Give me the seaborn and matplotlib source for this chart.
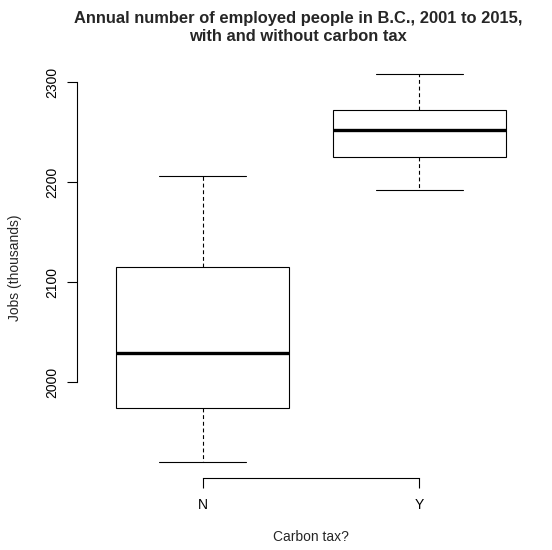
import pandas as pd
import matplotlib
matplotlib.use("Agg")
import matplotlib.pyplot as plt
import seaborn as sns

# Annual employment in B.C. (thousands), split by carbon tax in place
years_no_tax = [2001, 2002, 2003, 2004, 2005, 2006, 2007]
jobs_no_tax = [1920.3, 1955.6, 1993.0, 2028.7, 2090.4, 2140.2, 2206.3]
years_tax = [2008, 2009, 2010, 2011, 2012, 2013, 2014, 2015]
jobs_tax = [2230.4, 2192.0, 2210.0, 2245.0, 2259.0, 2268.0, 2284.0, 2307.7]
categories = ["N", "Y"]
y_ticks = [2000, 2100, 2200, 2300]

df = pd.DataFrame({
    "year": years_no_tax + years_tax,
    "tax": ["N"] * len(jobs_no_tax) + ["Y"] * len(jobs_tax),
    "jobs": jobs_no_tax + jobs_tax,
})

sns.set_style("ticks")
plt.rcParams["font.family"] = ["Liberation Sans", "DejaVu Sans"]

fig = plt.figure(figsize=(5.52, 5.5), dpi=100)
ax = fig.add_axes([77 / 552, 72.5 / 550, 468 / 552, 419 / 550])

sns.boxplot(
    data=df, x="tax", y="jobs", order=categories, ax=ax,
    width=0.8, color="white", saturation=1, linecolor="black", linewidth=0.8,
    showfliers=False,
    whiskerprops={"linestyle": (0, (3.5, 2.5))},
    medianprops={"linewidth": 2.4},
)

ax.set_xlim(-0.58, 1.58)
ax.set_ylim(1904.5, 2323.5)
ax.set_yticks(y_ticks)
ax.set_yticklabels([str(t) for t in y_ticks], rotation=90, va="center")

sns.despine(ax=ax)
ax.spines["left"].set_bounds(2000, 2300)
ax.spines["bottom"].set_bounds(0, 1)
for s in ("left", "bottom"):
    ax.spines[s].set_linewidth(0.8)
    ax.spines[s].set_color("black")

ax.tick_params(axis="both", direction="out", length=7, width=0.8,
               colors="black", labelsize=10)
ax.tick_params(axis="y", pad=6)
ax.tick_params(axis="x", pad=8)

ax.set_xlabel("Carbon tax?", fontsize=10)
ax.set_ylabel("Jobs (thousands)", fontsize=10)
ax.xaxis.set_label_coords(0.5, -0.125)
ax.yaxis.set_label_coords(-0.118, 0.5)

fig.text(0.540, 0.950,
         "Annual number of employed people in B.C., 2001 to 2015,\nwith and without carbon tax",
         ha="center", va="center", fontsize=11.9, fontweight="bold",
         multialignment="center", linespacing=1.3)

fig.savefig("out.png", dpi=100)
